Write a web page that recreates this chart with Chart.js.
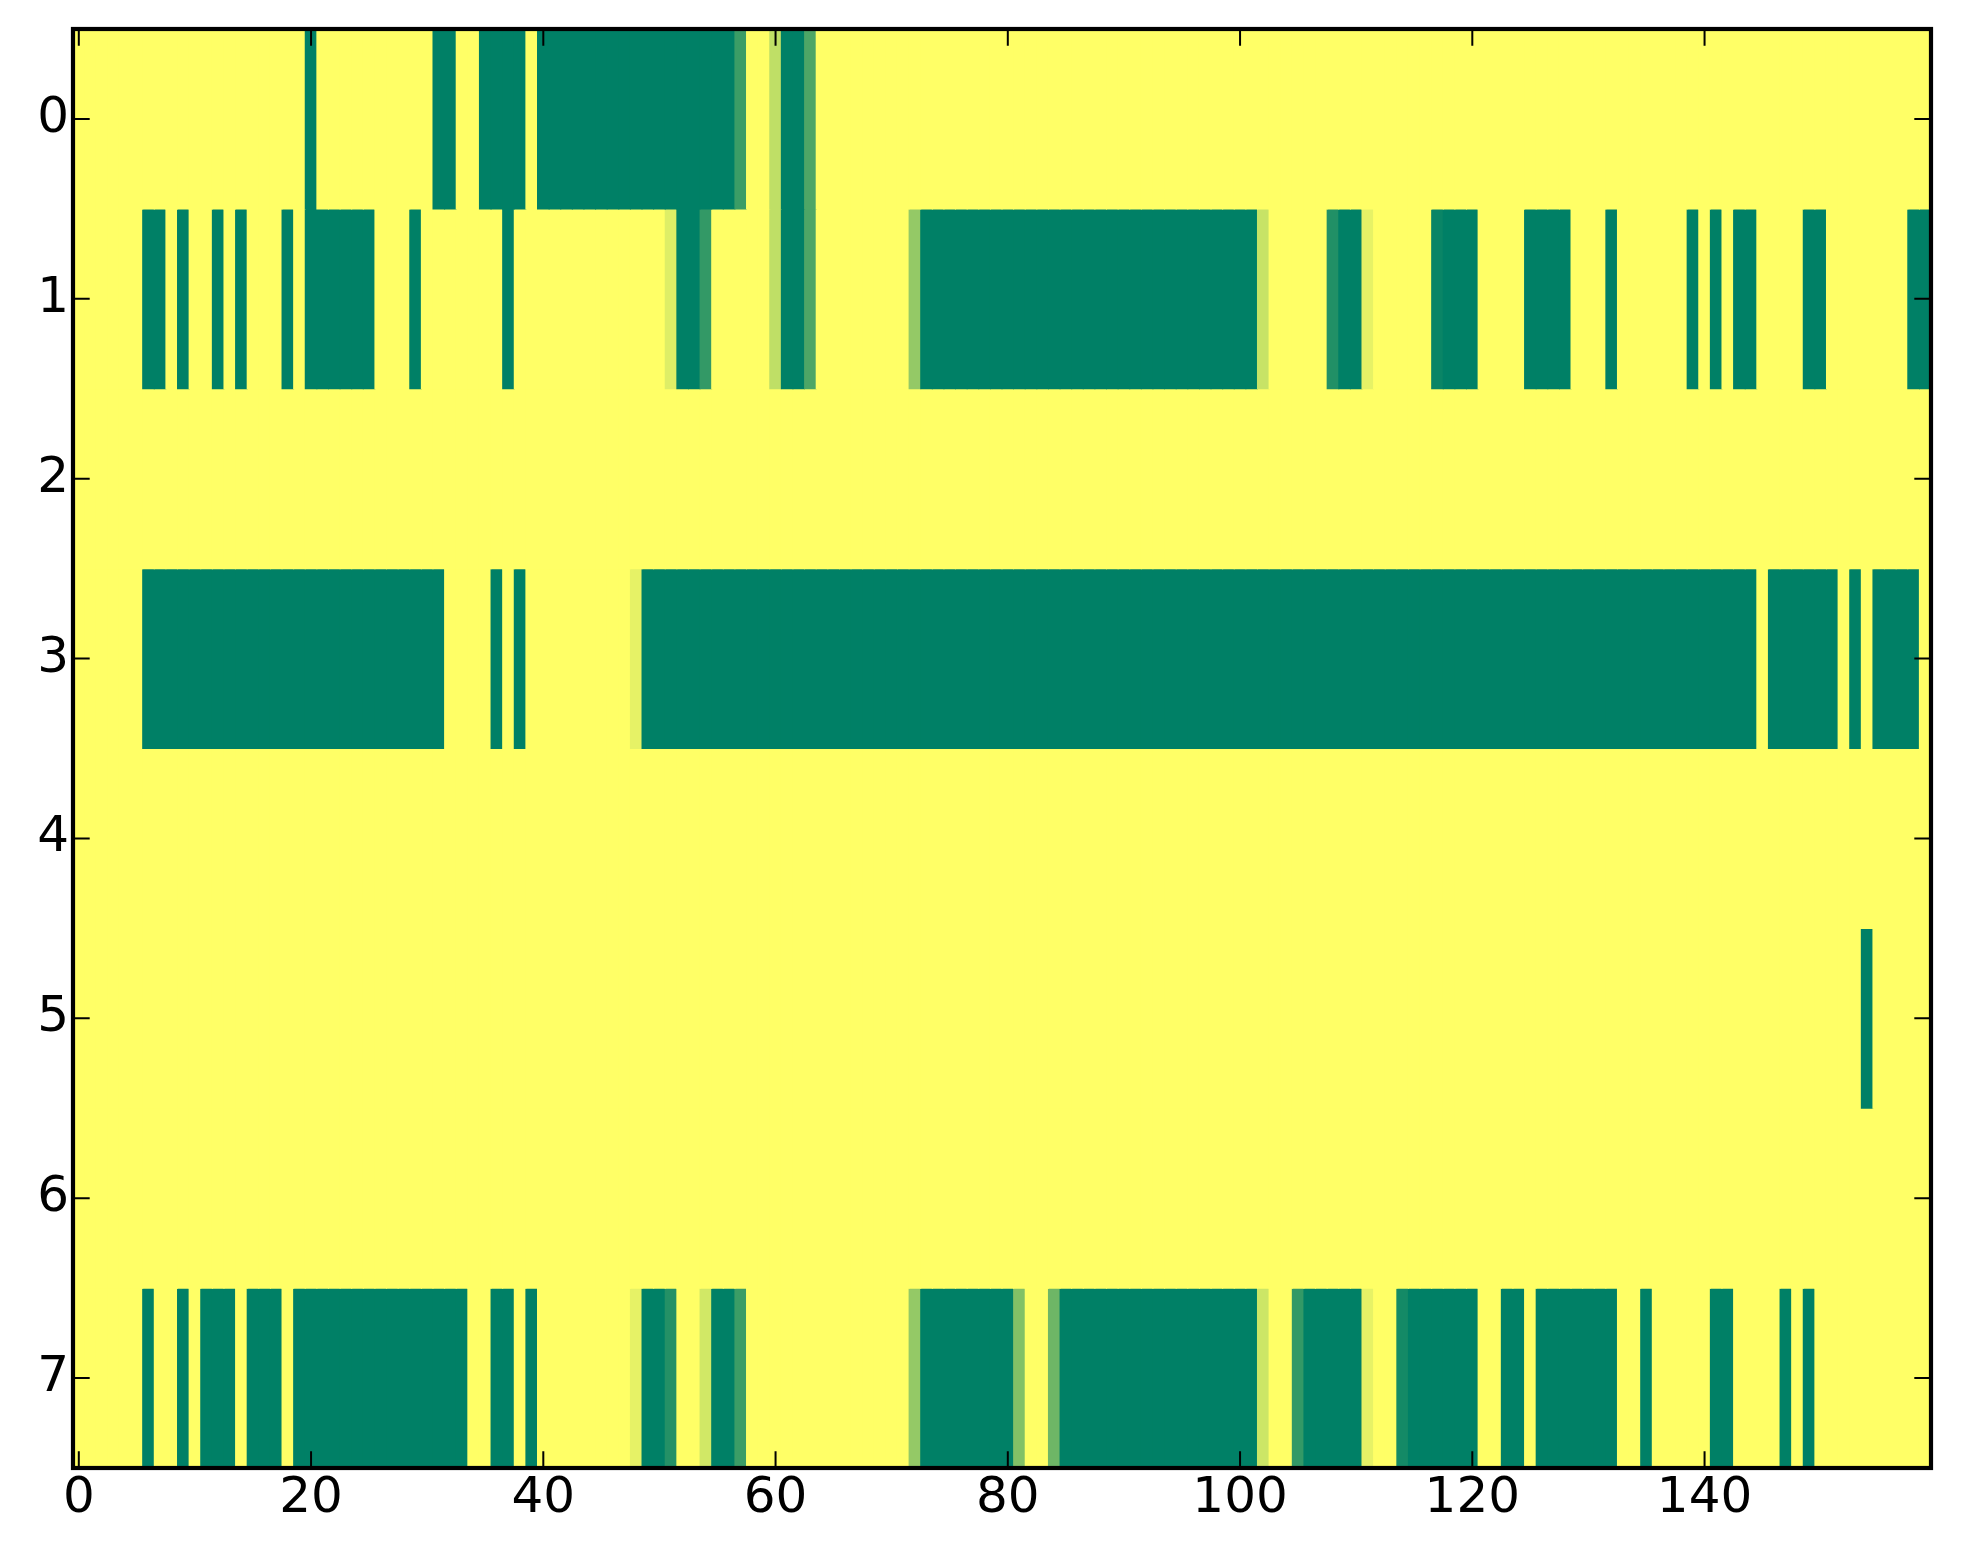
<!DOCTYPE html>
<html>
<head>
<meta charset="utf-8">
<title>heatmap</title>
<script src="https://cdn.jsdelivr.net/npm/chart.js@4.4.1/dist/chart.umd.min.js"></script>
<style>
  html, body { margin: 0; padding: 0; background: #fff; }
  canvas { display: block; }
</style>
</head>
<body>
<canvas id="myChart" width="1963" height="1564"></canvas>
<script>
// one array per image row, 160 columns (1 = yellow, 0 = green, summer colormap)
var row0 = [
  1,1,1,1,1,1,1,1,1,1,1,1,1,1,1,1,1,1,1,1,
  0,1,1,1,1,1,1,1,1,1,1,0,0,1,1,0,0,0,0,1,
  0,0,0,0,0,0,0,0,0,0,0,0,0,0,0,0,0,0.23,1,1,
  0.75,0,0,0.3,1,1,1,1,1,1,1,1,1,1,1,1,1,1,1,1,
  1,1,1,1,1,1,1,1,1,1,1,1,1,1,1,1,1,1,1,1,
  1,1,1,1,1,1,1,1,1,1,1,1,1,1,1,1,1,1,1,1,
  1,1,1,1,1,1,1,1,1,1,1,1,1,1,1,1,1,1,1,1,
  1,1,1,1,1,1,1,1,1,1,1,1,1,1,1,1,1,1,1,1
];
var row1 = [
  1,1,1,1,1,1,0,0,1,0,1,1,0,1,0,1,1,1,0,1,
  0,0,0,0,0,0,1,1,1,0,1,1,1,1,1,1,1,0,1,1,
  1,1,1,1,1,1,1,1,1,1,1,0.87,0,0,0.2,1,1,1,1,1,
  0.75,0,0,0.3,1,1,1,1,1,1,1,1,0.58,0,0,0,0,0,0,0,
  0,0,0,0,0,0,0,0,0,0,0,0,0,0,0,0,0,0,0,0,
  0,0,0.78,1,1,1,1,1,0.13,0,0,0.9,1,1,1,1,1,0.04,0,0,
  0,1,1,1,1,0,0,0,0,1,1,1,0,1,1,1,1,1,1,0,
  1,0,1,0,0,1,1,1,1,0,0,1,1,1,1,1,1,1,0,0
];
var row2 = [
  1,1,1,1,1,1,1,1,1,1,1,1,1,1,1,1,1,1,1,1,
  1,1,1,1,1,1,1,1,1,1,1,1,1,1,1,1,1,1,1,1,
  1,1,1,1,1,1,1,1,1,1,1,1,1,1,1,1,1,1,1,1,
  1,1,1,1,1,1,1,1,1,1,1,1,1,1,1,1,1,1,1,1,
  1,1,1,1,1,1,1,1,1,1,1,1,1,1,1,1,1,1,1,1,
  1,1,1,1,1,1,1,1,1,1,1,1,1,1,1,1,1,1,1,1,
  1,1,1,1,1,1,1,1,1,1,1,1,1,1,1,1,1,1,1,1,
  1,1,1,1,1,1,1,1,1,1,1,1,1,1,1,1,1,1,1,1
];
var row3 = [
  1,1,1,1,1,1,0,0,0,0,0,0,0,0,0,0,0,0,0,0,
  0,0,0,0,0,0,0,0,0,0,0,0,1,1,1,1,0,1,0,1,
  1,1,1,1,1,1,1,1,0.9,0,0,0,0,0,0,0,0,0,0,0,
  0,0,0,0,0,0,0,0,0,0,0,0,0,0,0,0,0,0,0,0,
  0,0,0,0,0,0,0,0,0,0,0,0,0,0,0,0,0,0,0,0,
  0,0,0,0,0,0,0,0,0,0,0,0,0,0,0,0,0,0,0,0,
  0,0,0,0,0,0,0,0,0,0,0,0,0,0,0,0,0,0,0,0,
  0,0,0,0,0,1,0,0,0,0,0,0,1,0,1,0,0,0,0,1
];
var row4 = [
  1,1,1,1,1,1,1,1,1,1,1,1,1,1,1,1,1,1,1,1,
  1,1,1,1,1,1,1,1,1,1,1,1,1,1,1,1,1,1,1,1,
  1,1,1,1,1,1,1,1,1,1,1,1,1,1,1,1,1,1,1,1,
  1,1,1,1,1,1,1,1,1,1,1,1,1,1,1,1,1,1,1,1,
  1,1,1,1,1,1,1,1,1,1,1,1,1,1,1,1,1,1,1,1,
  1,1,1,1,1,1,1,1,1,1,1,1,1,1,1,1,1,1,1,1,
  1,1,1,1,1,1,1,1,1,1,1,1,1,1,1,1,1,1,1,1,
  1,1,1,1,1,1,1,1,1,1,1,1,1,1,1,1,1,1,1,1
];
var row5 = [
  1,1,1,1,1,1,1,1,1,1,1,1,1,1,1,1,1,1,1,1,
  1,1,1,1,1,1,1,1,1,1,1,1,1,1,1,1,1,1,1,1,
  1,1,1,1,1,1,1,1,1,1,1,1,1,1,1,1,1,1,1,1,
  1,1,1,1,1,1,1,1,1,1,1,1,1,1,1,1,1,1,1,1,
  1,1,1,1,1,1,1,1,1,1,1,1,1,1,1,1,1,1,1,1,
  1,1,1,1,1,1,1,1,1,1,1,1,1,1,1,1,1,1,1,1,
  1,1,1,1,1,1,1,1,1,1,1,1,1,1,1,1,1,1,1,1,
  1,1,1,1,1,1,1,1,1,1,1,1,1,1,0,1,1,1,1,1
];
var row6 = [
  1,1,1,1,1,1,1,1,1,1,1,1,1,1,1,1,1,1,1,1,
  1,1,1,1,1,1,1,1,1,1,1,1,1,1,1,1,1,1,1,1,
  1,1,1,1,1,1,1,1,1,1,1,1,1,1,1,1,1,1,1,1,
  1,1,1,1,1,1,1,1,1,1,1,1,1,1,1,1,1,1,1,1,
  1,1,1,1,1,1,1,1,1,1,1,1,1,1,1,1,1,1,1,1,
  1,1,1,1,1,1,1,1,1,1,1,1,1,1,1,1,1,1,1,1,
  1,1,1,1,1,1,1,1,1,1,1,1,1,1,1,1,1,1,1,1,
  1,1,1,1,1,1,1,1,1,1,1,1,1,1,1,1,1,1,1,1
];
var row7 = [
  1,1,1,1,1,1,0,1,1,0,1,0,0,0,1,0,0,0,1,0,
  0,0,0,0,0,0,0,0,0,0,0,0,0,0,1,1,0,0,1,0,
  1,1,1,1,1,1,1,1,0.9,0,0,0.14,1,1,0.82,0,0,0.23,1,1,
  1,1,1,1,1,1,1,1,1,1,1,1,0.58,0,0,0,0,0,0,0,
  0,0.51,1,1,0.43,0,0,0,0,0,0,0,0,0,0,0,0,0,0,0,
  0,0,0.8,1,1,0.2,0,0,0,0,0,0.9,1,1,0.08,0,0,0,0,0,
  0,1,1,0,0,1,0,0,0,0,0,0,0,1,1,0,1,1,1,1,
  1,0,0,1,1,1,1,0,1,0,1,1,1,1,1,1,1,1,1,1
];
var rows = [row0, row1, row2, row3, row4, row5, row6, row7];

var colTicks = [0, 20, 40, 60, 80, 100, 120, 140];
var rowTicks = [0, 1, 2, 3, 4, 5, 6, 7];

// matplotlib "summer": r = v, g = 0.5 + v/2, b = 0.4
function summer(v) {
  return 'rgb(' + Math.round(255 * v) + ',' + Math.round(255 * (0.5 + v / 2)) + ',102)';
}

var datasets = rows.map(function(vals, r) {
  return {
    data: vals.map(function(v, c) { return {x: c, y: [r - 0.5, r + 0.5]}; }),
    backgroundColor: vals.map(summer),
    borderWidth: 0,
    grouped: false,
    barPercentage: 1,
    categoryPercentage: 1,
    inflateAmount: 0.5
  };
});

// inward ticks on all four sides plus the black frame
var frame = {
  id: 'frame',
  afterDatasetsDraw: function(chart) {
    var ctx = chart.ctx, a = chart.chartArea;
    var xs = chart.scales.x, ys = chart.scales.y;
    var len = 16.7;
    ctx.save();
    ctx.strokeStyle = '#000';
    ctx.lineWidth = 2;
    ctx.beginPath();
    xs.ticks.forEach(function(t) {
      var px = xs.getPixelForValue(t.value);
      ctx.moveTo(px, a.bottom); ctx.lineTo(px, a.bottom - len);
      ctx.moveTo(px, a.top); ctx.lineTo(px, a.top + len);
    });
    ys.ticks.forEach(function(t) {
      var py = ys.getPixelForValue(t.value);
      ctx.moveTo(a.left, py); ctx.lineTo(a.left + len, py);
      ctx.moveTo(a.right, py); ctx.lineTo(a.right - len, py);
    });
    ctx.stroke();
    ctx.lineWidth = 4.2;
    ctx.strokeRect(a.left, a.top, a.right - a.left, a.bottom - a.top);
    ctx.restore();
  }
};

Chart.defaults.font.family = "'DejaVu Sans', sans-serif";
Chart.defaults.font.size = 50;
Chart.defaults.color = '#000';

var ctx = document.getElementById('myChart').getContext('2d');
var myChart = new Chart(ctx, {
  type: 'bar',
  data: { datasets: datasets },
  plugins: [frame],
  options: {
    responsive: false,
    animation: false,
    devicePixelRatio: 1,
    layout: { padding: { left: 0, top: 29, right: 32, bottom: 0 } },
    plugins: { legend: { display: false }, tooltip: { enabled: false } },
    scales: {
      x: {
        type: 'linear',
        offset: false,
        min: -0.5,
        max: 159.5,
        grid: { display: false, drawTicks: false },
        border: { display: false },
        ticks: { autoSkip: false, maxRotation: 0, padding: 1 },
        afterBuildTicks: function(s) { s.ticks = colTicks.map(function(v) { return {value: v}; }); },
        afterFit: function(s) { s.height = 96; s.paddingLeft = 0; s.paddingRight = 0; }
      },
      y: {
        type: 'linear',
        reverse: true,
        min: -0.5,
        max: 7.5,
        grid: { display: false, drawTicks: false },
        border: { display: false },
        ticks: { autoSkip: false, padding: 4 },
        afterBuildTicks: function(s) { s.ticks = rowTicks.map(function(v) { return {value: v}; }); },
        afterFit: function(s) { s.width = 73; s.paddingTop = 0; s.paddingBottom = 0; }
      }
    }
  }
});
</script>
</body>
</html>
